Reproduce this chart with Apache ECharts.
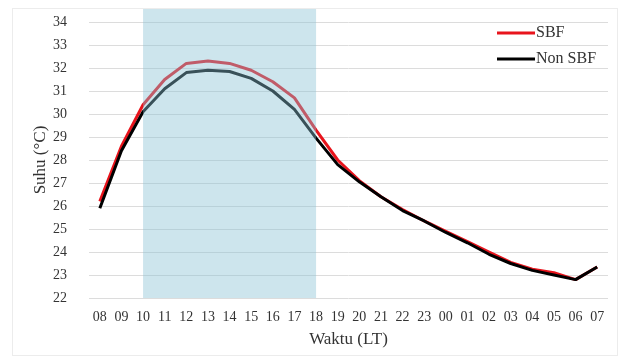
<!DOCTYPE html>
<html>
<head>
<meta charset="utf-8">
<script src="https://cdn.jsdelivr.net/npm/echarts@6/dist/echarts.min.js"></script>
<style>
  html, body { margin: 0; padding: 0; background: #fff; }
  #frame { position: absolute; left: 12px; top: 8px; width: 604px; height: 346px; border: 1px solid #ececec; }
  #chart { position: absolute; left: 0; top: 0; width: 622px; height: 358px; }
</style>
</head>
<body>
<div id="frame"></div>
<div id="chart"></div>
<script>
const categories = ['08','09','10','11','12','13','14','15','16','17','18','19','20','21','22','23','00','01','02','03','04','05','06','07'];
const sbf = [26.2, 28.6, 30.4, 31.5, 32.2, 32.3, 32.2, 31.9, 31.4, 30.7, 29.3, 28.0, 27.1, 26.4, 25.85, 25.35, 24.9, 24.45, 24.0, 23.55, 23.25, 23.1, 22.8, 23.35];
const nonSbf = [25.9, 28.4, 30.1, 31.1, 31.8, 31.9, 31.85, 31.55, 31.0, 30.2, 28.95, 27.8, 27.05, 26.4, 25.8, 25.35, 24.85, 24.4, 23.9, 23.5, 23.2, 23.0, 22.8, 23.35];
const bandRange = ['10', '18'];
const yTicks = { min: 22, max: 34, interval: 1 };

const font = '"Liberation Serif", "Times New Roman", serif';
const chart = echarts.init(document.getElementById('chart'), null, { renderer: 'canvas' });
chart.setOption({
  animation: false,
  backgroundColor: 'transparent',
  textStyle: { fontFamily: font },
  grid: [
    { left: 89, right: 14, top: 22, bottom: 60 },
    { left: 89, right: 14, top: 9, bottom: 60 }
  ],
  legend: {
    data: ['SBF', 'Non SBF'],
    orient: 'vertical',
    left: 492,
    top: 20,
    icon: 'rect',
    itemWidth: 38,
    itemHeight: 3,
    itemGap: 10,
    textStyle: { fontFamily: font, fontSize: 16, color: '#333', padding: [0, 0, 0, -4] }
  },
  xAxis: [
    {
      gridIndex: 0,
      type: 'category',
      data: categories,
      boundaryGap: true,
      name: 'Waktu (LT)',
      nameLocation: 'middle',
      nameGap: 33,
      nameMoveOverlap: false,
      nameTextStyle: { fontFamily: font, fontSize: 17, color: '#333' },
      axisLine: { show: false },
      axisTick: { show: false },
      axisLabel: { fontFamily: font, fontSize: 14, color: '#333', margin: 12, interval: 0 }
    },
    {
      gridIndex: 1,
      type: 'category',
      data: categories,
      boundaryGap: true,
      show: false
    }
  ],
  yAxis: [
    {
      gridIndex: 0,
      type: 'value',
      min: yTicks.min,
      max: yTicks.max,
      interval: yTicks.interval,
      name: 'Suhu (°C)',
      nameLocation: 'middle',
      nameGap: 40,
      nameMoveOverlap: false,
      nameTextStyle: { fontFamily: font, fontSize: 17, color: '#333' },
      axisLine: { show: false },
      axisTick: { show: false },
      axisLabel: { fontFamily: font, fontSize: 14, color: '#333', margin: 22 },
      splitLine: { lineStyle: { color: '#dcdcdc', width: 1 } }
    },
    {
      gridIndex: 1,
      type: 'value',
      min: 0,
      max: 1,
      show: false
    }
  ],
  series: [
    {
      name: 'SBF',
      type: 'line',
      xAxisIndex: 0,
      yAxisIndex: 0,
      data: sbf,
      symbol: 'none',
      lineStyle: { color: '#e8141c', width: 3 },
      itemStyle: { color: '#e8141c' },
      z: 2
    },
    {
      name: 'Non SBF',
      type: 'line',
      xAxisIndex: 0,
      yAxisIndex: 0,
      data: nonSbf,
      symbol: 'none',
      lineStyle: { color: '#000000', width: 3 },
      itemStyle: { color: '#000000' },
      z: 3
    },
    {
      name: 'band',
      type: 'line',
      xAxisIndex: 1,
      yAxisIndex: 1,
      data: [],
      z: 10,
      silent: true,
      markArea: {
        silent: true,
        z: 10,
        itemStyle: { color: 'rgba(137,192,212,0.42)' },
        data: [[{ xAxis: bandRange[0] }, { xAxis: bandRange[1] }]]
      }
    }
  ]
});
</script>
</body>
</html>
